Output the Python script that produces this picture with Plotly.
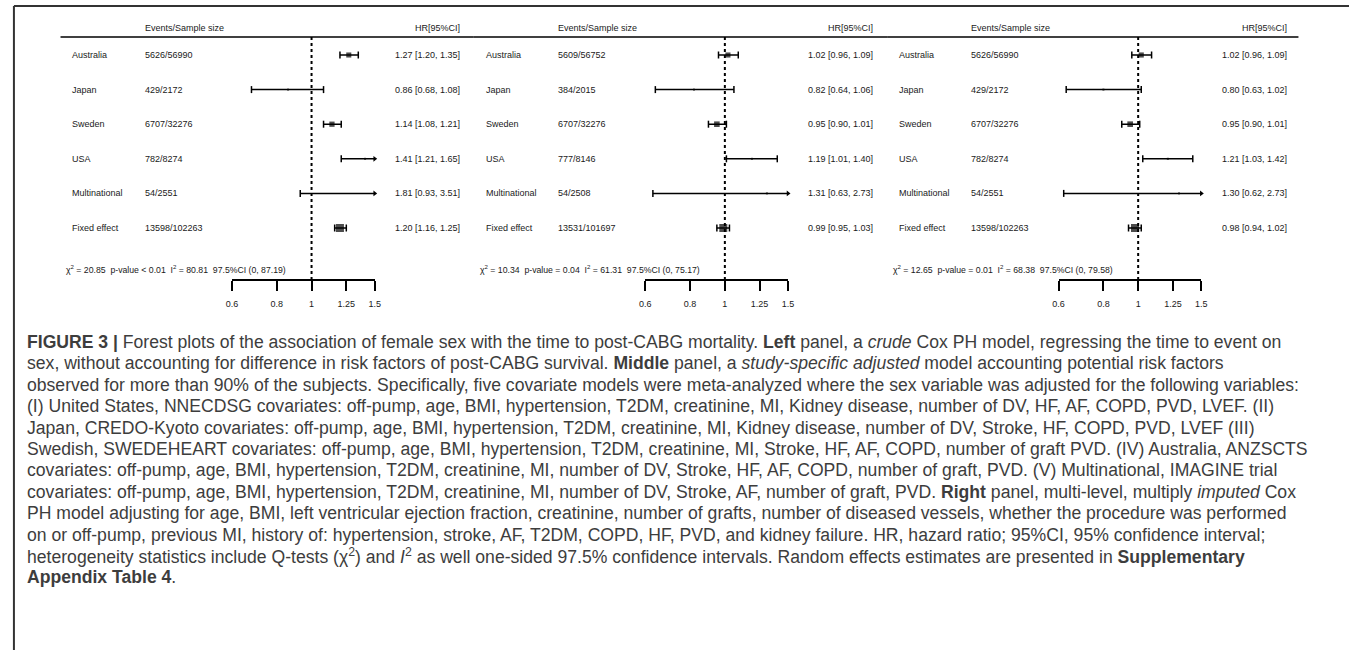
import math
import plotly.graph_objects as go

W, H = 1355, 650

# ---------------- data ----------------
countries = ["Australia", "Japan", "Sweden", "USA", "Multinational", "Fixed effect"]

events_crude = ["5626/56990", "429/2172", "6707/32276", "782/8274", "54/2551", "13598/102263"]
hr_crude = [1.27, 0.86, 1.14, 1.41, 1.81, 1.20]
lo_crude = [1.20, 0.68, 1.08, 1.21, 0.93, 1.16]
hi_crude = [1.35, 1.08, 1.21, 1.65, 3.51, 1.25]

events_adj = ["5609/56752", "384/2015", "6707/32276", "777/8146", "54/2508", "13531/101697"]
hr_adj = [1.02, 0.82, 0.95, 1.19, 1.31, 0.99]
lo_adj = [0.96, 0.64, 0.90, 1.01, 0.63, 0.95]
hi_adj = [1.09, 1.06, 1.01, 1.40, 2.73, 1.03]

events_imp = ["5626/56990", "429/2172", "6707/32276", "782/8274", "54/2551", "13598/102263"]
hr_imp = [1.02, 0.80, 0.95, 1.21, 1.30, 0.98]
lo_imp = [0.96, 0.63, 0.90, 1.03, 0.62, 0.94]
hi_imp = [1.09, 1.02, 1.01, 1.42, 2.73, 1.02]

chi2_vals = [20.85, 10.34, 12.65]
p_texts = ["< 0.01", "= 0.04", "= 0.01"]
i2_vals = [80.81, 61.31, 68.38]
i2_ci_hi = [87.19, 75.17, 79.58]

tick_vals = [0.6, 0.8, 1, 1.25, 1.5]
tick_text = ["0.6", "0.8", "1", "1.25", "1.5"]
XMIN, XMAX = 0.6, 1.5

caption_lines = [
    "<b>FIGURE 3 |</b> Forest plots of the association of female sex with the time to post-CABG mortality. <b>Left</b> panel, a <i>crude</i> Cox PH model, regressing the time to event on",
    "sex, without accounting for difference in risk factors of post-CABG survival. <b>Middle</b> panel, a <i>study-specific adjusted</i> model accounting potential risk factors",
    "observed for more than 90% of the subjects. Specifically, five covariate models were meta-analyzed where the sex variable was adjusted for the following variables:",
    "(I) United States, NNECDSG covariates: off-pump, age, BMI, hypertension, T2DM, creatinine, MI, Kidney disease, number of DV, HF, AF, COPD, PVD, LVEF. (II)",
    "Japan, CREDO-Kyoto covariates: off-pump, age, BMI, hypertension, T2DM, creatinine, MI, Kidney disease, number of DV, Stroke, HF, COPD, PVD, LVEF (III)",
    "Swedish, SWEDEHEART covariates: off-pump, age, BMI, hypertension, T2DM, creatinine, MI, Stroke, HF, AF, COPD, number of graft PVD. (IV) Australia, ANZSCTS",
    "covariates: off-pump, age, BMI, hypertension, T2DM, creatinine, MI, number of DV, Stroke, HF, AF, COPD, number of graft, PVD. (V) Multinational, IMAGINE trial",
    "covariates: off-pump, age, BMI, hypertension, T2DM, creatinine, MI, number of DV, Stroke, AF, number of graft, PVD. <b>Right</b> panel, multi-level, multiply <i>imputed</i> Cox",
    "PH model adjusting for age, BMI, left ventricular ejection fraction, creatinine, number of grafts, number of diseased vessels, whether the procedure was performed",
    "on or off-pump, previous MI, history of: hypertension, stroke, AF, T2DM, COPD, HF, PVD, and kidney failure. HR, hazard ratio; 95%CI, 95% confidence interval;",
    "heterogeneity statistics include Q-tests (χ<sup>2</sup>) and <i>I</i><sup>2</sup> as well one-sided 97.5% confidence intervals. Random effects estimates are presented in <b>Supplementary</b>",
    "<b>Appendix Table 4</b>.",
]

panels = [
    dict(events=events_crude, hr=hr_crude, lo=lo_crude, hi=hi_crude),
    dict(events=events_adj, hr=hr_adj, lo=lo_adj, hi=hi_adj),
    dict(events=events_imp, hr=hr_imp, lo=lo_imp, hi=hi_imp),
]

# ---------------- layout geometry (pixels) ----------------
ROW0, ROWSTEP = 55, 34.6
HEADER_Y, HLINE_Y, STATS_Y, AXIS_Y = 28, 37, 269, 280
SHIFT = 417
COUNTRY_X, EVENTS_X, HR_RIGHT, STATS_RIGHT = 65, 138, 460, 285
AX_L, AX_R = 228, 372
LINE_L, LINE_R = 55, 472

FONT = "Liberation Sans, Arial, Helvetica, sans-serif"
TXT = "#1a1a1a"


def px(x):
    return x / W


def py(y):
    return 1 - y / H


fig = go.Figure()
annotations = []
shapes = []
layout_axes = {}

for k, pnl in enumerate(panels):
    off = SHIFT * k
    xa = "x" if k == 0 else f"x{k + 1}"
    xname = "xaxis" if k == 0 else f"xaxis{k + 1}"

    lo, hi, hr = pnl["lo"], pnl["hi"], pnl["hr"]
    # inverse-variance weights -> box sizes
    se = [(math.log(h) - math.log(l)) / 3.92 for l, h in zip(lo, hi)]
    se_min = min(se)
    sizes = [max(2.0, 8.0 * se_min / s) for s in se]

    # CI lines
    lx, ly = [], []
    for c, l, h in zip(countries, lo, hi):
        lx += [max(l, XMIN), min(h, XMAX), None]
        ly += [c, c, None]
    fig.add_trace(go.Scatter(x=lx, y=ly, mode="lines", xaxis=xa, yaxis="y",
                             line=dict(color="black", width=1.5), cliponaxis=False,
                             showlegend=False, hoverinfo="skip"))
    # caps
    cx, cy = [], []
    for c, l, h in zip(countries, lo, hi):
        if l >= XMIN:
            cx.append(l); cy.append(c)
        if h <= XMAX:
            cx.append(h); cy.append(c)
    fig.add_trace(go.Scatter(x=cx, y=cy, mode="markers", xaxis=xa, yaxis="y",
                             marker=dict(symbol="line-ns", size=5,
                                         line=dict(color="black", width=1.5)),
                             cliponaxis=False, showlegend=False, hoverinfo="skip"))
    # arrows for clipped upper bounds
    ax_, ay_ = [], []
    for c, h in zip(countries, hi):
        if h > XMAX:
            ax_.append(XMAX); ay_.append(c)
    if ax_:
        fig.add_trace(go.Scatter(x=ax_, y=ay_, mode="markers", xaxis=xa, yaxis="y",
                                 marker=dict(symbol="triangle-right", size=5, color="black"),
                                 cliponaxis=False, showlegend=False, hoverinfo="skip"))
    # point estimates
    sx, sy, ss = [], [], []
    for c, v, s in zip(countries, hr, sizes):
        if XMIN <= v <= XMAX:
            sx.append(v); sy.append(c); ss.append(s)
    fig.add_trace(go.Scatter(x=sx, y=sy, mode="markers", xaxis=xa, yaxis="y",
                             marker=dict(symbol="square", size=ss, color="black",
                                         line=dict(width=0)),
                             cliponaxis=False, showlegend=False, hoverinfo="skip"))

    layout_axes[xname] = dict(
        type="log", range=[math.log10(XMIN), math.log10(XMAX)],
        domain=[px(AX_L + off), px(AX_R + off)],
        anchor="free", position=py(AXIS_Y),
        showline=True, linecolor="black", linewidth=1.5,
        ticks="outside", ticklen=10, tickwidth=1.5, tickcolor="black",
        ticklabelstandoff=5,
        tickvals=tick_vals, ticktext=tick_text,
        tickfont=dict(family=FONT, size=9, color=TXT),
        showgrid=False, zeroline=False, fixedrange=True,
    )

    # reference line at HR = 1
    shapes.append(dict(type="line", xref=xa, yref="paper", x0=1, x1=1,
                       y0=py(AXIS_Y), y1=py(HLINE_Y),
                       line=dict(color="black", width=2, dash="dot")))
    # header rule
    shapes.append(dict(type="line", xref="paper", yref="paper",
                       x0=px(LINE_L + off), x1=px(min(LINE_R + off, 1304)),
                       y0=py(HLINE_Y), y1=py(HLINE_Y),
                       line=dict(color="black", width=1.5)))

    # header texts
    annotations.append(dict(text="Events/Sample size", xref="paper", yref="paper",
                            x=px(EVENTS_X + off), y=py(HEADER_Y), xanchor="left",
                            yanchor="middle", showarrow=False,
                            font=dict(family=FONT, size=9, color=TXT)))
    annotations.append(dict(text="HR[95%CI]", xref="paper", yref="paper",
                            x=px(HR_RIGHT + off), y=py(HEADER_Y), xanchor="right",
                            yanchor="middle", showarrow=False,
                            font=dict(family=FONT, size=9, color=TXT)))
    # row texts
    for c, ev, v, l, h in zip(countries, pnl["events"], hr, lo, hi):
        annotations.append(dict(text=c, xref="paper", yref="y", x=px(COUNTRY_X + off), y=c,
                                xanchor="left", yanchor="middle", showarrow=False,
                                font=dict(family=FONT, size=9, color=TXT)))
        annotations.append(dict(text=ev, xref="paper", yref="y", x=px(EVENTS_X + off), y=c,
                                xanchor="left", yanchor="middle", showarrow=False,
                                font=dict(family=FONT, size=9, color=TXT)))
        annotations.append(dict(text=f"{v:.2f} [{l:.2f}, {h:.2f}]", xref="paper", yref="y",
                                x=px(HR_RIGHT + off), y=c, xanchor="right", yanchor="middle",
                                showarrow=False, font=dict(family=FONT, size=9, color=TXT)))
    # heterogeneity stats
    st = (f"χ<sup>2</sup> = {chi2_vals[k]:.2f}  p-value {p_texts[k]}  "
          f"I<sup>2</sup> = {i2_vals[k]:.2f}  97.5%CI (0, {i2_ci_hi[k]:.2f})")
    annotations.append(dict(text=st, xref="paper", yref="paper",
                            x=px(STATS_RIGHT + off), y=py(STATS_Y), xanchor="right",
                            yanchor="middle", showarrow=False,
                            font=dict(family=FONT, size=8.7, color=TXT)))

# caption
CAP_Y0, CAP_STEP = 342, 21.4
for i, line in enumerate(caption_lines):
    annotations.append(dict(text=line, xref="paper", yref="paper",
                            x=px(19), y=py(CAP_Y0 + CAP_STEP * i), xanchor="left",
                            yanchor="middle", showarrow=False, align="left",
                            font=dict(family=FONT, size=17.6, color="#3d3d3d")))

# frame
shapes.append(dict(type="line", xref="paper", yref="paper", x0=px(8), x1=px(8),
                   y0=py(6), y1=0, line=dict(color="#333333", width=2)))
shapes.append(dict(type="line", xref="paper", yref="paper", x0=px(8), x1=1,
                   y0=py(6), y1=py(6), line=dict(color="#333333", width=2)))

fig.update_layout(
    width=W, height=H,
    margin=dict(l=0, r=0, t=0, b=0),
    paper_bgcolor="white", plot_bgcolor="white",
    showlegend=False,
    yaxis=dict(type="category", categoryarray=countries, categoryorder="array",
               range=[(H - ROW0) / ROWSTEP, -ROW0 / ROWSTEP], domain=[0, 1],
               visible=False, fixedrange=True, anchor="x"),
    annotations=annotations,
    shapes=shapes,
    **layout_axes,
)

fig.write_html("out.html")
